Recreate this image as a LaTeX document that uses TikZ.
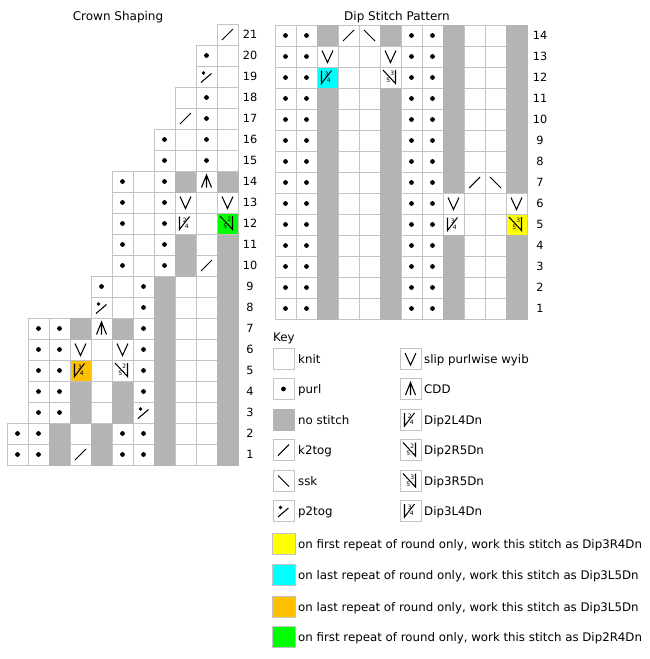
\documentclass[tikz,border=0pt]{standalone}
\usepackage{fontspec}
\setmainfont{DejaVu Sans}
\definecolor{bordc}{RGB}{195,195,195}
\definecolor{nsg}{RGB}{180,180,180}
\definecolor{dyel}{RGB}{255,255,0}
\definecolor{dcya}{RGB}{0,255,255}
\definecolor{dora}{RGB}{255,192,0}
\definecolor{dgre}{RGB}{0,255,0}
\newcommand\cellbox[1]{\filldraw[fill=#1,draw=bordc,line width=0.9pt] (0,0) rectangle (21,21);}
\newcommand\dipLsym[3]{\cellbox{#1}\draw[sym] (4.5,3.5) -- (4.5,16.5) -- (14.5,3.5); \node[numf] at (9.8,7) {#2}; \node[numf] at (11.8,13.2) {#3};}
\newcommand\dipRsym[3]{\cellbox{#1}\draw[sym] (3,3) -- (15.5,16.5) -- (15.5,3); \node[numf] at (12.2,6.5) {#2}; \node[numf] at (8.3,13.5) {#3};}
\newcommand\chartrow[3]{\foreach \ty [count=\ci] in {#3} {\pic at ({#1+(\ci-1)*21},{#2}) {\ty};}}
\tikzset{
 sym/.style={line width=1.05pt},
 numf/.style={font=\fontsize{6}{6}\selectfont,inner sep=0pt},
 lbl/.style={font=\fontsize{11.8}{13}\selectfont,inner sep=0pt,anchor=base west},
 rownum/.style={font=\fontsize{11.3}{13}\selectfont,inner sep=0pt,anchor=base},
 ttl/.style={font=\fontsize{12}{14}\selectfont,inner sep=0pt,anchor=base},
 e/.pic={},
 kn/.pic={\cellbox{white}},
 pu/.pic={\cellbox{white}\fill (10.5,10.5) circle (2.4);},
 ns/.pic={\filldraw[fill=nsg,draw=nsg,line width=0.9pt] (0,0) rectangle (21,21);},
 kt/.pic={\cellbox{white}\draw[sym] (5,16) -- (16,5);},
 ss/.pic={\cellbox{white}\draw[sym] (5,5) -- (16,16);},
 pt/.pic={\cellbox{white}\fill (7.5,7) circle (1.9);\draw[sym] (5,16.5) -- (15.5,7.5);},
 sl/.pic={\cellbox{white}\draw[sym] (5,4.5) -- (10.5,16.5) -- (16,4.5);},
 cd/.pic={\cellbox{white}\draw[sym] (5.5,16.5) -- (10.5,4) -- (15.5,16.5) (10.5,4) -- (10.5,16.5);},
 dLa/.pic={\dipLsym{white}{2}{4}},
 dRa/.pic={\dipRsym{white}{2}{5}},
 dRb/.pic={\dipRsym{white}{3}{5}},
 dLb/.pic={\dipLsym{white}{3}{4}},
 dLbo/.pic={\dipLsym{dora}{3}{4}},
 dLbc/.pic={\dipLsym{dcya}{3}{4}},
 dRag/.pic={\dipRsym{dgre}{2}{5}},
 dRby/.pic={\dipRsym{dyel}{3}{5}},
}
\begin{document}
\begin{tikzpicture}[x=1pt,y=-1pt]
\useasboundingbox[fill=white] (0,0) rectangle (650,659);
% titles
\node[ttl] (t1) at (118,20) {Crown Shaping};
\node[ttl] (t2) at (397,20) {Dip Stitch Pattern};
% Crown shaping
\chartrow{7}{444}{pu,pu,ns,kt,ns,pu,pu,ns,kn,kn,ns}
\chartrow{7}{423}{pu,pu,ns,kn,ns,pu,pu,ns,kn,kn,ns}
\chartrow{28}{402}{pu,pu,ns,kn,ns,pt,ns,kn,kn,ns}
\chartrow{28}{381}{pu,pu,ns,kn,ns,pu,ns,kn,kn,ns}
\chartrow{28}{360}{pu,pu,dLbo,kn,dRa,pu,ns,kn,kn,ns}
\chartrow{28}{339}{pu,pu,sl,kn,sl,pu,ns,kn,kn,ns}
\chartrow{28}{318}{pu,pu,ns,cd,ns,pu,ns,kn,kn,ns}
\chartrow{91}{297}{pt,kn,pu,ns,kn,kn,ns}
\chartrow{91}{276}{pu,kn,pu,ns,kn,kn,ns}
\chartrow{112}{255}{pu,kn,pu,ns,kt,ns}
\chartrow{112}{234}{pu,kn,pu,ns,kn,ns}
\chartrow{112}{213}{pu,kn,pu,dLa,kn,dRag}
\chartrow{112}{192}{pu,kn,pu,sl,kn,sl}
\chartrow{112}{171}{pu,kn,pu,ns,cd,ns}
\chartrow{154}{150}{pu,kn,pu,kn}
\chartrow{154}{129}{pu,kn,pu,kn}
\chartrow{175}{108}{kt,pu,kn}
\chartrow{175}{87}{kn,pu,kn}
\chartrow{196}{66}{pt,kn}
\chartrow{196}{45}{pu,kn}
\chartrow{217}{24}{kt}
\foreach \r in {1,...,21} \node[rownum] (cn\r) at (250,{465-\r*21+14.5}) {\r};
% Dip stitch pattern
\chartrow{275}{25}{pu,pu,ns,kt,ss,ns,pu,pu,ns,kn,kn,ns}
\chartrow{275}{46}{pu,pu,sl,kn,kn,sl,pu,pu,ns,kn,kn,ns}
\chartrow{275}{67}{pu,pu,dLbc,kn,kn,dRb,pu,pu,ns,kn,kn,ns}
\foreach \yy in {88,109,130,151} {\chartrow{275}{\yy}{pu,pu,ns,kn,kn,ns,pu,pu,ns,kn,kn,ns}}
\chartrow{275}{172}{pu,pu,ns,kn,kn,ns,pu,pu,ns,kt,ss,ns}
\chartrow{275}{193}{pu,pu,ns,kn,kn,ns,pu,pu,sl,kn,kn,sl}
\chartrow{275}{214}{pu,pu,ns,kn,kn,ns,pu,pu,dLb,kn,kn,dRby}
\foreach \yy in {235,256,277,298} {\chartrow{275}{\yy}{pu,pu,ns,kn,kn,ns,pu,pu,ns,kn,kn,ns}}
\foreach \r in {1,...,14} \node[rownum] (dn\r) at (540,{319-\r*21+14.5}) {\r};
% Key
\node[lbl] (key) at (273,341) {Key};
\pic at (273,348.5) {kn};  \node[lbl] (k1) at (298,363.3) {knit};
\pic at (273,378.5) {pu};  \node[lbl] (k2) at (298,393.3) {purl};
\pic at (273,409.5) {ns};  \node[lbl] (k3) at (298,424.3) {no stitch};
\pic at (273,439.5) {kt};  \node[lbl] (k4) at (298,454.3) {k2tog};
\pic at (273,470.5) {ss};  \node[lbl] (k5) at (298,485.3) {ssk};
\pic at (273,500.5) {pt};  \node[lbl] (k6) at (298,515.3) {p2tog};
\pic at (400,348.5) {sl};  \node[lbl] (k7) at (424,363.3) {slip purlwise wyib};
\pic at (400,378.5) {cd};  \node[lbl] (k8) at (424,393.3) {CDD};
\pic at (400,409.5) {dLa}; \node[lbl] (k9) at (424,424.3) {Dip2L4Dn};
\pic at (400,439.5) {dRa}; \node[lbl] (k10) at (424,454.3) {Dip2R5Dn};
\pic at (400,470.5) {dRb}; \node[lbl] (k11) at (424,485.3) {Dip3R5Dn};
\pic at (400,500.5) {dLb}; \node[lbl] (k12) at (424,515.3) {Dip3L4Dn};
\filldraw[fill=dyel,draw=bordc,line width=0.9pt] (272,533.5) rectangle (295,554.5);
\node[lbl] (c1) at (298,548.5) {on first repeat of round only, work this stitch as Dip3R4Dn};
\filldraw[fill=dcya,draw=bordc,line width=0.9pt] (272,564.5) rectangle (295,585.5);
\node[lbl] (c2) at (298,579.5) {on last repeat of round only, work this stitch as Dip3L5Dn};
\filldraw[fill=dora,draw=bordc,line width=0.9pt] (272,596.5) rectangle (295,617.5);
\node[lbl] (c3) at (298,611.5) {on last repeat of round only, work this stitch as Dip3L5Dn};
\filldraw[fill=dgre,draw=bordc,line width=0.9pt] (272,626.5) rectangle (295,647.5);
\node[lbl] (c4) at (298,641.5) {on first repeat of round only, work this stitch as Dip2R4Dn};
\end{tikzpicture}
\end{document}
